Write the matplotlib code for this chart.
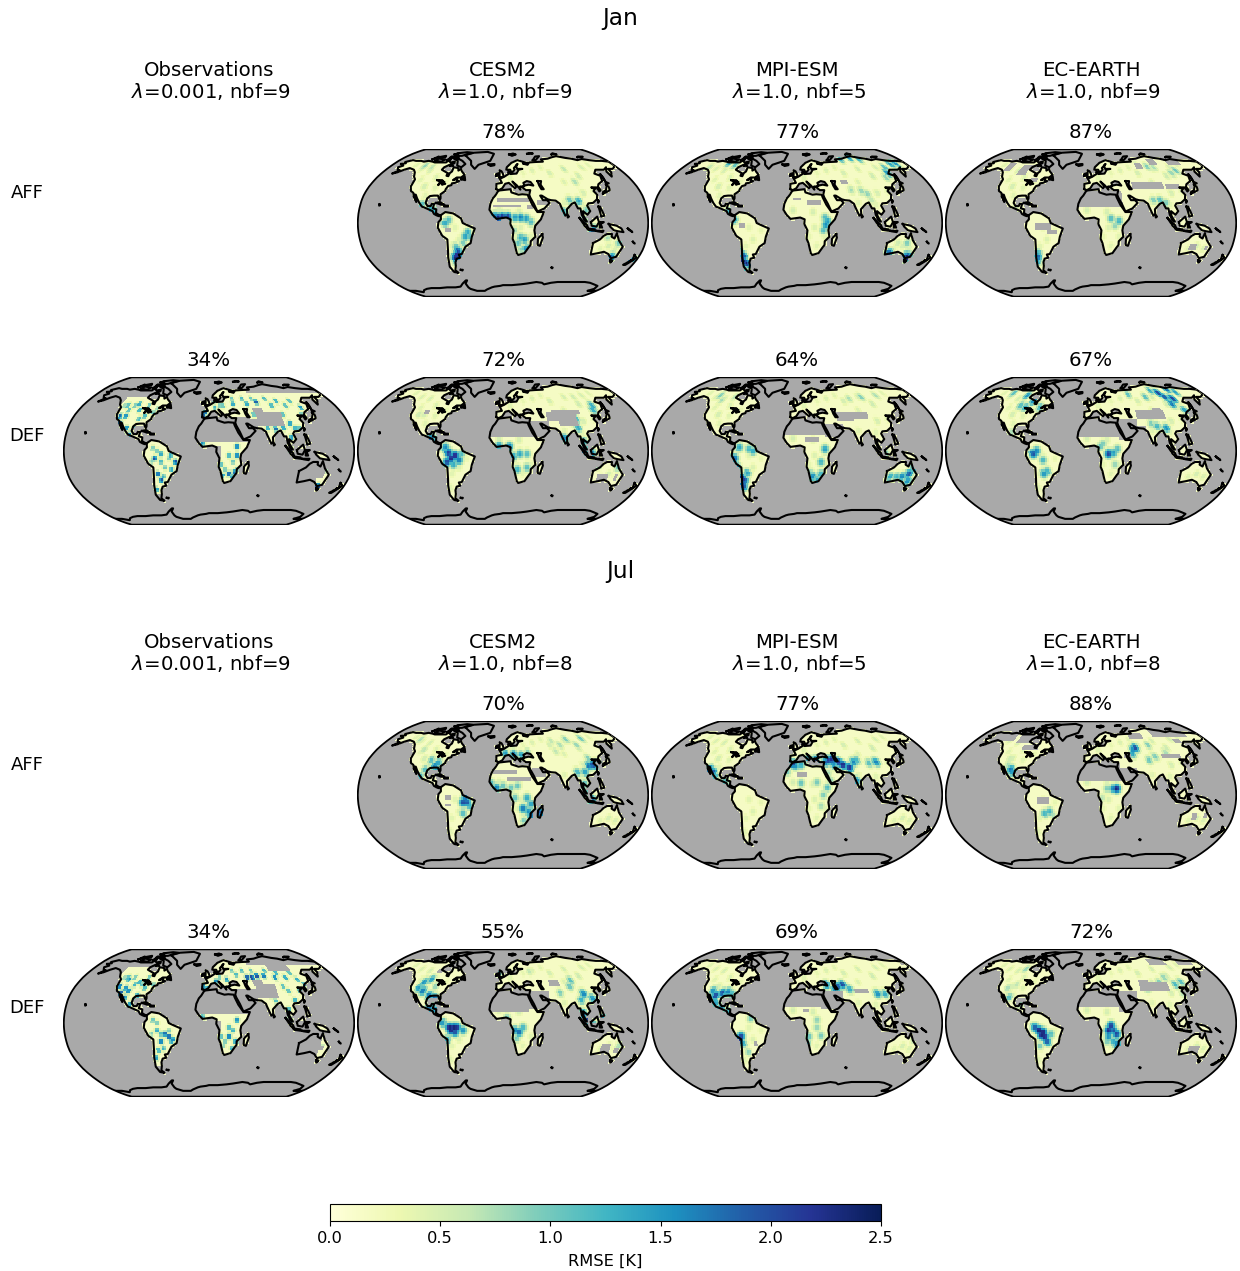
import numpy as np
import matplotlib
matplotlib.use("Agg")
import matplotlib.pyplot as plt
from matplotlib.path import Path
from matplotlib.cm import ScalarMappable
from matplotlib.colors import Normalize

# Text of the figure
months = ["Jan", "Jul"]
models = ["Observations", "CESM2", "MPI-ESM", "EC-EARTH"]
jan_headers = ["$\\lambda$=0.001, nbf=9", "$\\lambda$=1.0, nbf=9", "$\\lambda$=1.0, nbf=5", "$\\lambda$=1.0, nbf=9"]
jul_headers = ["$\\lambda$=0.001, nbf=9", "$\\lambda$=1.0, nbf=8", "$\\lambda$=1.0, nbf=5", "$\\lambda$=1.0, nbf=8"]
jan_aff_pct = [None, "78%", "77%", "87%"]
jan_def_pct = ["34%", "72%", "64%", "67%"]
jul_aff_pct = [None, "70%", "77%", "88%"]
jul_def_pct = ["34%", "55%", "69%", "72%"]
cbar_ticks = [0.0, 0.5, 1.0, 1.5, 2.0, 2.5]

# Coastlines, lon/lat
north_america = [(-168,66),(-162,67),(-166,68.5),(-157,71),(-150,70),(-141,70),(-135,69),(-128,70),(-120,69),(-115,68),(-108,68),(-102,68),(-96,68),(-94,72),(-91,69),(-88,68),(-82,69),(-81,67),(-87,65),(-93,62),(-94,59),(-88,57),(-82,55),(-82,52),(-79,51.5),(-79,55),(-77,57),(-78,62),(-70,61),(-68,58),(-65,60),(-62,57),(-56,53),(-60,50),(-66,50),(-70,47),(-65,49),(-65,47),(-61,46),(-66,44),(-70,43.5),(-70,41.5),(-74,40.5),(-76,37),(-76,35),(-81,31.5),(-80,27),(-80.5,25),(-82,27),(-84,30),(-89,30),(-94,29.5),(-97,27),(-98,22),(-95,18.5),(-91,18.5),(-90,21),(-87,21),(-88,16),(-83.5,15),(-83.5,11),(-80,9),(-77.5,8.5),(-80,7.5),(-83,8.5),(-86,10),(-88,13),(-92,14.5),(-96,16),(-102,18),(-106,22),(-110,27),(-113,31),(-115,31),(-110,23),(-115,29),(-117,33),(-121,35),(-124,40),(-124,48),(-128,51),(-132,56),(-137,59),(-146,61),(-152,59),(-158,56),(-164,54.5),(-158,58.5),(-162,59),(-166,62),(-161,64),(-168,66)]
south_america = [(-77.5,8.5),(-72,12),(-62,10.5),(-52,5),(-50,0),(-44,-2.5),(-35,-6),(-39,-15),(-41,-22),(-48,-26),(-54,-34),(-58,-34.5),(-57,-38),(-62,-39),(-65,-43),(-66,-47),(-69,-52),(-66,-55),(-72,-54),(-75,-48),(-73,-38),(-71,-30),(-70,-18),(-76,-14),(-81,-5),(-80,1),(-77,4),(-77.5,8.5)]
africa = [(-6,35.5),(10,37),(11,33.5),(20,31),(25,31.5),(32,31),(33,28),(37,20),(43,12),(51,12),(47,4),(40,-3),(39,-8),(40.5,-15),(35,-20),(35,-24),(32.5,-27),(28,-33),(20,-35),(18,-33),(14.5,-22),(12,-17),(13,-8),(9,-1),(9.5,4),(4,6),(-4,5),(-8,4.5),(-13,9),(-17,14.5),(-16,21),(-13,27),(-10,30),(-6,35.5)]
eurasia = [(-9,37),(-9,43),(-1.5,44),(-4.5,48.5),(2,51),(8,54),(8,57),(11,54),(20,54.5),(24,59),(30,60),(22,60),(21,64),(24,66),(17,61),(18,59),(13,55.5),(11,59),(5,59),(6,62),(14,67.5),(25,71),(41,67),(33,66.5),(40,65),(44,68),(54,68.5),(68,69),(67,72),(74,72.5),(80,73),(90,75),(100,76.5),(113,74),(122,73),(130,71),(140,72.5),(150,71),(160,70),(170,70),(180,69),(180,65),(177,62.5),(170,60),(163,60),(162,56),(156.5,51),(156,57),(163,62),(155,59),(142,59),(135,54.5),(141,52),(138,46),(130,42.5),(127.5,39.5),(129,36),(126.5,34.5),(125,39),(121,39),(118,39),(122,37),(119,35),(122,31),(120,26),(114,22),(108,21.5),(106,19),(109,13),(105,9),(100,13),(100,8),(104,1.5),(101,3),(98,9),(97,16),(94,16),(91,22.5),(87,21),(80,15),(80,10),(77.5,8),(73,18),(72,21),(67,24.5),(61,25),(57,26),(50,30),(48,30),(51,25),(56,25),(59,22),(52,16),(43,12.5),(39,21),(35,28),(34,31),(36,36),(30,36),(26,39),(29,41),(35,42),(41,41),(38,45),(33,46),(28,44),(29,41),(26,40),(23,40),(23,36.5),(19,41),(13,45.5),(18,40),(16,38),(8,44),(3,43),(-1,38),(-5.5,36),(-9,37)]
australia = [(114,-22),(122,-18),(126,-14),(130,-12),(136,-12),(136,-15),(140,-17),(142,-11),(146,-19),(153,-26),(150,-37),(144,-38.5),(138,-34),(131,-31.5),(124,-33),(115,-34.5),(114,-22)]
madagascar = [(49,-12),(50,-16),(47,-25),(44,-24),(44,-17),(49,-12)]
great_britain = [(-5,50),(1,51),(0,54),(-2,57),(-5,58.5),(-5,54),(-5,50)]
ireland = [(-10,52),(-6,52),(-6,55),(-10,54),(-10,52)]
iceland = [(-24,65.5),(-14,66),(-14,64.5),(-20,63.5),(-24,65.5)]
greenland = [(-73,78),(-60,82),(-32,83.5),(-18,80),(-22,70),(-40,65),(-44,60),(-52,65),(-55,70),(-68,76),(-73,78)]
baffin = [(-80,73),(-70,70),(-62,66),(-66,62),(-74,64),(-78,70),(-88,73),(-80,73)]
ellesmere = [(-90,77),(-78,77),(-62,82),(-75,83),(-92,81),(-90,77)]
victoria = [(-117,70),(-105,69),(-102,72),(-115,73),(-117,70)]
banks = [(-125,72),(-118,74),(-120,76),(-125,72)]
devon = [(-96,74),(-82,74),(-82,76),(-96,76),(-96,74)]
melville = [(-118,75),(-106,75),(-108,77),(-118,75)]
axel = [(-95,79),(-88,79),(-90,81),(-95,79)]
somerset = [(-98,71),(-92,72),(-95,74),(-98,71)]
southampton = [(-86,64),(-80,63.5),(-84,66),(-86,64)]
newfoundland = [(-59,48),(-53,47),(-55,51),(-59,48)]
cuba = [(-85,22),(-80,23),(-74,20),(-78,20),(-85,22)]
hispaniola = [(-74,19),(-69,19),(-69,18),(-74,18),(-74,19)]
japan = [(130,32),(136,34),(141,36),(142,40),(140,41),(136,36),(131,34),(130,32)]
hokkaido = [(140,42),(145,43.5),(142,45),(140,42)]
sakhalin = [(142,46),(143,50),(143,54),(142,50),(142,46)]
sumatra = [(95,5.5),(104,-2),(106,-6),(102,-4),(95,5.5)]
java = [(105,-6),(114,-7),(114,-8.5),(106,-7.5),(105,-6)]
borneo = [(109,1),(117,7),(119,1),(116,-4),(110,-3),(109,1)]
sulawesi = [(120,1),(125,1),(121,-1),(123,-5),(120,-5),(120,1)]
new_guinea = [(131,-1),(141,-3),(147,-6),(150,-10),(143,-9),(138,-8),(133,-4),(131,-1)]
philippines = [(120,18),(122,18),(124,13),(126,8),(122,7),(121,13),(120,18)]
sri_lanka = [(80,9),(82,7),(80.5,6),(80,9)]
taiwan = [(121,25),(122,24),(120.5,22),(121,25)]
tasmania = [(145,-41),(148,-41),(147,-43.5),(145,-41)]
nz_north = [(173,-35),(178,-38),(175,-41.5),(174,-39),(173,-35)]
nz_south = [(173,-41),(174,-42),(170,-46),(167,-46),(173,-41)]
new_caledonia = [(164,-20.5),(167,-22.5),(165,-21.5),(164,-20.5)]
svalbard = [(12,79),(20,80.5),(25,79),(17,77),(12,79)]
novaya_zemlya = [(52,71),(57,71),(68,76.5),(60,76),(52,71)]
severnaya = [(95,79),(105,79),(100,81),(95,79)]
franz_josef = [(48,80),(60,80.5),(55,81.5),(48,80)]
new_siberian = [(137,75),(148,75.5),(140,76),(137,75)]
hawaii = [(-156,20.5),(-155,19.5),(-156,19),(-156,20.5)]
falkland = [(-61,-51.5),(-58,-51.5),(-59,-52.3),(-61,-51.5)]
kerguelen = [(69,-49),(70.5,-49),(70,-49.8),(69,-49)]
solomon = [(155,-6),(160,-9),(161,-10),(156,-7),(155,-6)]
timor = [(116,-8.5),(125,-8.5),(124,-10),(117,-9),(116,-8.5)]
caspian = [(48,46),(53,46),(51,42),(54,37),(51,37),(49,41),(48,46)]
great_lakes = [(-92,47),(-85,47),(-84,46),(-88,41.5),(-87,45),(-83,43),(-79,43),(-83,42),(-81,45),(-85,46),(-88,46),(-92,47)]
antarctica = [(-180,-78),(-168,-78),(-158,-80),(-150,-77),(-140,-75),(-130,-74),(-115,-74),(-100,-73),(-85,-73),(-75,-72),(-68,-68),(-60,-64),(-58,-64),(-63,-68),(-62,-73),(-60,-75),(-50,-78),(-45,-78),(-35,-78),(-30,-76),(-20,-73),(-15,-72),(-5,-71),(0,-70),(15,-70),(30,-69),(40,-68),(55,-66),(65,-67),(70,-69),(80,-67),(90,-66),(105,-66),(120,-66),(135,-66),(145,-67),(155,-69),(165,-71),(168,-75),(163,-78),(170,-78.5),(180,-78)]

coast_lines = [north_america, south_america, africa, eurasia, australia, madagascar, great_britain, ireland, iceland, greenland, baffin, ellesmere, victoria, banks, devon, melville, axel, somerset, southampton, newfoundland, cuba, hispaniola, japan, hokkaido, sakhalin, sumatra, java, borneo, sulawesi, new_guinea, philippines, sri_lanka, taiwan, tasmania, nz_north, nz_south, new_caledonia, svalbard, novaya_zemlya, severnaya, franz_josef, new_siberian, hawaii, falkland, kerguelen, solomon, timor, caspian, great_lakes, antarctica]
data_land = [north_america, south_america, africa, eurasia, australia, madagascar, great_britain, ireland, cuba, hispaniola, japan, sumatra, java, borneo, sulawesi, new_guinea, philippines, sri_lanka, tasmania, nz_north, nz_south]

# Pale mottling seen in all the model maps: lon, lat, RMSE
mottle = [(-140,65,.45),(-125,60,.5),(-110,58,.55),(-95,50,.5),(-105,40,.55),(-90,38,.45),(-78,45,.4),(-115,48,.45),(-100,30,.45),
          (-60,-5,.45),(-55,-18,.5),(-65,-25,.45),(-45,-8,.4),(-70,-40,.45),(-5,14,.55),(20,12,.55),(22,-5,.5),(25,-25,.45),(15,-15,.4),(35,-15,.45),
          (10,50,.45),(45,58,.5),(70,55,.55),(95,60,.55),(110,52,.6),(125,62,.55),(85,45,.5),(105,33,.55),(140,65,.45),(60,62,.45),(30,55,.4),(120,35,.45),
          (135,-25,.55),(125,-28,.45),(145,-28,.5),(78,22,.45),(100,20,.45)]
# Extra scatter of the observation maps
obs_scatter = [(-115,50,1.4),(-105,50,1.2),(-95,45,1.6),(-85,38,1.4),(-75,42,1.2),(-110,38,1.8),(-95,25,1.4),(-120,50,1.0),(-65,0,1.2),(-60,-12,1.4),(-50,-8,1.1),(-47,-20,1.6),(-58,-28,1.4),(-72,-12,1.0),(15,50,1.2),(35,58,1.2),(50,58,1.4),(65,58,1.2),(85,58,1.4),(100,55,1.6),(120,55,1.4),(100,40,1.4),(80,30,1.7),(110,25,1.6),(25,-5,1.5),(20,-20,1.2),(30,-28,1.5),(15,-15,1.4),(35,-20,1.1)]

# Field per panel: lon, lat, RMSE for the coloured spots, lon0, lat0, lon1, lat1 for the no-data boxes
jan_aff_cesm = [(-125,64,.9),(-112,62,.7),(-90,15,1.4),(-85,12,1.5),(-102,20,1.2),(-72,0,1.4),(-68,3,1.2),(-44,-10,1.4),(-47,-15,1.5),(-42,-15,1.2),(-50,-22,1.0),(-60,-26,1.2),(-58,-31,2.1),(-60,-35,2.4),(-63,-38,2.4),(-65,-44,.9),(-10,8,1.7),(-6,6,2.3),(-1,7,2.3),(6,7,2.2),(15,6,1.5),(22,6,1.7),(29,5,1.5),(35,1,1.2),(14,-8,.9),(22,-16,1.3),(27,-18,1.5),(19,-22,1.1),(30,-28,1.6),(24,-29,.9),(76,12,1.4),(85,25,1.1),(96,24,1.4),(104,14,1.0),(100,3,1.1),(112,-7,2.0),(132,-16,.8),(147,-22,1.0),(144,-37,1.8),(173,-41,1.7),(95,60,.7),(100,45,.8)]
jan_aff_cesm_gray = [(-8,23,32,28),(-12,17,22,20),(30,16,38,19),(42,19,58,24),(-72,-9,-66,-6)]
jan_aff_mpi = [(-138,62,.7),(-112,67,1.3),(-100,65,1.2),(-85,12,1.4),(-78,3,1.4),(-70,-36,2.0),(-72,-41,2.4),(-69,-44,2.4),(-75,-48,1.6),(-74,-30,1.3),(38,2,1.5),(36,-2,1.6),(35,6,1.2),(33,-8,1.2),(78,72,1.4),(95,74,1.6),(110,72,1.3),(140,62,1.2),(135,55,1.6),(128,50,.9),(155,66,1.5),(165,67,1.6),(85,35,.9),(92,32,.9),(72,36,.8),(120,-33,2.0),(146,-37,2.4),(143,-35,1.5),(140,-22,1.0),(128,-22,.6),(95,25,.7)]
jan_aff_mpi_gray = [(-5,24,6,28),(12,20,30,24),(-72,-4,-66,-1),(60,43,70,47)]
jan_aff_ec = [(-70,-37,1.9),(-68,-33,1.3),(-72,-42,1.4),(25,5,1.2),(35,2,1.3),(30,-3,.9),(80,25,1.0),(88,25,1.2),(95,22,1.0),(90,63,1.0),(100,62,.8),(130,58,1.1),(120,55,.9),(75,65,.7),(-95,15,.7)]
jan_aff_ec_gray = [(-17,17,39,36),(-135,58,-122,68),(-110,52,-95,64),(-100,60,-85,66),(-85,45,-75,50),(55,38,98,46),(100,38,120,42),(70,60,82,68),(95,65,110,72),(125,65,150,72),(-70,-7,-50,-1),(-55,-12,-42,-8),(125,-30,135,-22),(145,-30,150,-26)]

jan_def_obs = [(-118,38,2),(-110,45,1.4),(-100,52,1.6),(-85,50,1.3),(-72,47,1.0),(-105,25,1.9),(-100,18,2.0),(-92,35,1.4),(-115,30,2.2),(-80,42,.7),(-70,3,1.1),(-68,-8,2.2),(-60,-3,1.6),(-48,-5,1.6),(-42,-12,2.2),(-55,-18,1.2),(-65,-25,2.2),(-62,-32,2.1),(-70,-42,1.7),(-5,42,2.0),(-7,38,2.0),(-2,36,1.5),(8,48,1.4),(20,50,1.3),(35,52,1.6),(55,52,1.6),(70,54,2.1),(90,50,1.5),(110,50,1.4),(130,48,1.8),(125,40,1.2),(60,40,1.3),(30,-12,1.2),(35,-5,2.0),(35,5,2.0),(25,-25,2.3),(32,-23,1.9),(17,-27,1.8),(-8,8,1.7),(75,25,1.6),(85,24,2.0),(95,25,1.7),(103,15,1.7),(105,30,1.8),(115,25,1.4),(100,2,2.3),(145,-38,2.3),(147,-22,1.0),(8,54,1.2)]
jan_def_obs_gray = [(-180,60,-50,80),(-170,50,-125,60),(-20,9,55,38),(8,-8,14,5),(110,-40,140,-8),(140,-30,147,-8),(35,12,62,36),(62,28,98,43),(60,64,180,80),(60,43,75,48),(108,-12,122,2),(-75,-56,-62,-48)]
jan_def_cesm = [(-60,-5,2.4),(-65,-8,2.4),(-68,-2,2.2),(-70,-12,2.1),(-55,-10,1.8),(-72,4,1.6),(-85,12,1.4),(-90,14,1.8),(-62,-15,1.4),(-52,-3,1.2),(-74,-15,1.0),(13,-6,1.5),(21,-3,1.4),(30,-3,1.2),(18,-20,1.3),(30,-18,1.2),(8,5,1.7),(-5,6,1.5),(77,14,1.7),(96,25,1.4),(101,10,1.4),(100,1,2.0),(110,-2,1.6),(125,45,1.4),(128,50,1.4),(96,35,1.5),(90,33,1.6),(120,-15,1.2),(145,-18,1.0),(-112,40,.6),(110,60,.6)]
jan_def_cesm_gray = [(-17,16,35,36),(35,14,60,32),(58,32,72,43),(65,40,105,46),(72,28,98,40),(120,-33,135,-25),(142,-32,147,-24),(-108,40,-101,46),(-62,-35,-60,-34)]
jan_def_mpi = [(-120,62,1.0),(-112,56,.8),(-96,60,.7),(-78,-8,1.9),(-75,-18,1.7),(-70,-30,2.3),(-71,-38,2.2),(-68,-32,2.0),(-63,-24,1.4),(-60,2,1.3),(-55,0,1.4),(-72,4,1.4),(35,2,1.5),(30,-12,1.3),(20,-28,1.7),(27,-32,1.4),(30,-25,1.3),(17,-24,1.0),(80,58,.8),(100,60,1.0),(125,62,.8),(148,-18,1.7),(143,-25,2.0),(135,-28,1.7),(128,-28,1.3),(120,-28,1.4),(145,-33,1.6),(110,-2,.9)]
jan_def_mpi_gray = [(-17,17,35,36),(35,14,60,30),(52,32,75,42),(65,36,95,42),(10,10,28,14),(-60,-26,-55,-24)]
jan_def_ec = [(-125,65,1.2),(-100,62,1.6),(-85,55,1.7),(-92,48,1.4),(-72,48,1.3),(-100,50,1.2),(60,63,1.2),(100,68,1.4),(115,60,2.0),(110,65,2.2),(125,58,2.2),(130,70,1.9),(140,66,1.5),(85,60,1.2),(130,45,1.5),(96,25,1.6),(85,27,1.3),(78,30,1.0),(118,52,1.8),(-68,0,1.7),(-72,-3,2.0),(-60,-10,1.3),(-55,-22,1.3),(-60,-25,1.6),(22,-3,2.1),(28,-2,1.5),(33,2,1.2),(12,5,1.1),(15,8,1.0),(30,-15,.9),(-100,20,.8)]
jan_def_ec_gray = [(-17,16,35,36),(35,12,60,36),(60,34,100,44),(84,44,98,47),(58,22,70,27)]

jul_aff_cesm = [(-95,38,1.2),(-88,32,1.7),(-85,35,1.5),(-85,28,1.5),(-100,28,1.2),(-105,20,1.3),(-112,50,.7),(-130,62,.8),(-50,-8,2.1),(-45,-8,2.0),(-47,-3,1.8),(-42,-12,1.3),(-50,-20,1.2),(-15,13,1.2),(-8,8,1.7),(0,10,1.1),(10,8,1.1),(18,10,1.1),(15,-3,1.1),(30,-3,1.4),(35,-10,1.5),(25,-15,1.8),(32,-18,1.6),(35,-22,1.8),(47,-19,2.0),(27,-28,1.0),(15,45,1.8),(25,44,1.5),(3,46,1.5),(35,47,1.0),(100,62,1.0),(125,63,1.1),(115,40,1.0),(112,32,1.8),(118,33,2.1),(125,35,1.2),(105,25,1.5),(95,25,1.3),(110,55,.9),(85,55,.8),(75,48,.7),(102,12,1.2),(110,-5,1.9),(101,2,1.4),(75,60,.7)]
jul_aff_cesm_gray = [(-12,22,18,27),(5,16,35,19),(38,20,55,30),(-72,-4,-65,-1),(-72,-12,-64,-9)]
jul_aff_mpi = [(-112,28,2.0),(-107,25,2.0),(-103,20,1.3),(-90,15,1.2),(-84,8,1.4),(-5,34,2.1),(-2,32,1.6),(5,33,1.4),(-12,25,1.0),(5,13,1.1),(25,14,1.0),(38,8,1.2),(33,0,1.0),(30,-12,.8),(38,36,1.9),(42,38,2.2),(47,39,2.3),(55,36,2.3),(60,33,2.4),(68,30,2.3),(48,33,1.6),(25,38,2.1),(15,39,1.5),(80,38,1.3),(95,35,1.2),(105,36,1.7),(75,36,1.7),(75,16,1.6),(42,16,.9),(40,24,.8)]
jul_aff_mpi_gray = [(-1,20,13,26)]
jul_aff_ec = [(-103,28,1.8),(-100,25,1.6),(-108,33,.8),(-58,-20,1.3),(-52,-18,1.3),(-48,-22,.8),(32,7,2.4),(28,7,1.8),(20,7,1.0),(14,-3,.7),(65,52,2.1),(60,50,1.7),(58,45,1.5),(85,55,1.0),(88,42,1.0),(105,47,.8),(78,38,1.1),(-108,40,.6)]
jul_aff_ec_gray = [(-17,15,38,36),(38,14,60,30),(-160,60,-120,70),(-115,58,-92,68),(-100,50,-75,56),(-105,62,-80,68),(-68,-10,-52,-2),(95,40,122,46),(100,65,160,75),(60,62,85,70),(128,-28,135,-20),(142,-25,147,-21),(125,-35,132,-32),(128,58,140,62),(45,40,55,44)]

jul_def_obs = [(-120,40,2.1),(-112,48,1.7),(-115,33,2.2),(-105,35,2.0),(-100,42,1.5),(-108,28,1.9),(-92,30,1.6),(-100,20,1.8),(-90,42,1.3),(-85,50,1.3),(-70,3,1.2),(-65,-8,1.6),(-55,-12,2.1),(-50,-15,2.3),(-45,-18,1.9),(-60,-20,2.1),(-65,-30,1.5),(-70,-38,1.7),(-8,40,2.2),(-2,37,2.0),(10,46,1.8),(25,48,1.8),(40,53,1.4),(55,50,2.4),(62,50,2.4),(70,52,2.3),(80,52,2.0),(95,50,2.0),(110,50,1.7),(125,48,1.6),(130,42,1.6),(120,35,1.3),(105,35,1.4),(70,32,1.5),(35,3,1.8),(30,-8,1.5),(25,-15,2.1),(33,-20,1.8),(18,-25,1.0),(-8,7,1.5),(100,15,1.5),(100,3,2.0),(85,24,1.3),(145,-25,.8)]
jul_def_obs_gray = [(-180,62,-50,80),(-170,50,-128,62),(-20,10,52,38),(8,-8,14,3),(110,-40,143,-8),(143,-30,147,-24),(35,12,62,38),(62,28,90,42),(60,66,180,80),(60,40,75,48),(108,-12,125,2),(-75,-56,-64,-48),(90,58,125,66)]
jul_def_cesm = [(-62,-5,2.5),(-67,-5,2.5),(-58,-5,2.4),(-65,-8,2.4),(-60,-10,2.1),(-75,0,1.6),(-50,-8,1.6),(-70,-18,1.4),(-100,48,1.5),(-108,45,1.6),(-105,35,1.8),(-112,38,1.5),(-95,30,1.8),(-88,27,2.0),(-92,17,1.8),(-85,15,1.6),(-90,40,.9),(15,-8,1.7),(20,-10,1.9),(25,-5,1.3),(17,-17,1.0),(5,6,1.0),(95,47,1.2),(105,32,1.7),(115,27,1.6),(100,25,1.4),(100,10,2.0),(103,3,2.1),(112,-3,2.0),(118,-5,1.9),(125,5,1.5),(90,40,1.1),(75,33,1.0),(40,57,.7),(-5,55,1.2),(148,-25,.8)]
jul_def_cesm_gray = [(-17,12,32,36),(32,15,60,36),(62,40,78,48),(108,-12,122,0),(125,-32,138,-22),(142,-33,150,-27),(-100,55,-90,60)]
jul_def_mpi = [(-110,35,1.6),(-105,30,2.1),(-97,33,2.0),(-90,34,1.7),(-85,32,1.3),(-103,22,1.5),(-95,16,1.7),(-85,12,1.4),(-70,-15,2.2),(-72,-18,2.2),(-68,-22,1.4),(-58,5,1.0),(-63,-32,.9),(40,42,1.9),(55,40,2.0),(62,42,2.1),(50,37,1.6),(70,37,1.4),(105,32,1.6),(115,32,1.4),(25,-5,.9),(30,-14,1.0),(15,-15,1.1),(25,3,.9),(12,-22,1.4),(148,-18,.8)]
jul_def_mpi_gray = [(-17,17,30,36),(30,15,60,36),(8,12,14,14),(75,32,95,38),(-56,-26,-50,-20),(170,65,178,68)]
jul_def_ec = [(-60,-10,2.5),(-65,-8,2.5),(-58,-15,2.4),(-62,-13,2.4),(-70,-5,2.0),(-55,-20,2.0),(-50,-12,1.2),(-65,-25,1.0),(25,-3,2.2),(22,-8,2.3),(28,-8,2.0),(32,-12,2.1),(22,-15,1.6),(28,-20,1.4),(33,-23,1.8),(20,-20,1.0),(-100,42,.7),(-110,38,.8),(-105,28,1.2),(-90,20,.9),(-100,60,.9),(75,38,1.2),(95,45,1.0),(115,42,1.3),(125,45,1.2),(105,50,.9),(120,32,.7)]
jul_def_ec_gray = [(-17,17,35,36),(35,12,60,36),(65,35,105,46),(65,44,80,48),(95,65,125,73),(142,66,170,70),(-8,14,8,16),(125,-32,140,-26)]

# Grid
lon_edges = np.arange(-180, 180.1, 2.5)
lat_edges = np.arange(-90, 90.1, 2.5)
lon_mid = (lon_edges[:-1] + lon_edges[1:]) / 2
lat_mid = (lat_edges[:-1] + lat_edges[1:]) / 2

rob_lat = np.arange(0, 91, 5)
rob_plen = np.array([1.0, .9986, .9954, .99, .9822, .973, .96, .9427, .9216, .8962, .8679, .835, .7986, .7597, .7186, .6732, .6213, .5722, .5322])
rob_pdfe = np.array([0, .062, .124, .186, .248, .31, .372, .434, .4958, .5571, .6176, .6769, .7346, .7903, .8435, .8936, .9394, .9761, 1.0])


def robinson(lon, lat):
    lon = np.asarray(lon, dtype=float)
    lat = np.asarray(lat, dtype=float)
    a = np.abs(lat)
    x = 0.8487 * np.interp(a, rob_lat, rob_plen) * np.radians(lon)
    y = 1.3523 * np.interp(a, rob_lat, rob_pdfe) * np.sign(lat)
    return x, y


lon2d, lat2d = np.meshgrid(lon_mid, lat_mid)
land = np.zeros(lon2d.shape, dtype=bool)
for poly in data_land:
    p = Path(poly)
    for dx, dy in [(0, 0), (1.3, 0), (-1.3, 0), (0, 1.3), (0, -1.3)]:
        pts = np.column_stack([lon2d.ravel() + dx, lat2d.ravel() + dy])
        land |= p.contains_points(pts).reshape(lon2d.shape)
lake = Path(caspian).contains_points(np.column_stack([lon2d.ravel(), lat2d.ravel()])).reshape(lon2d.shape)
land &= ~lake


def make_field(spots, gray, obs=False):
    field = np.full(lon2d.shape, 0.17)
    # obs maps are speckled, model maps are smoother
    width = 11.0 if obs else 32.0
    todo = (obs_scatter if obs else mottle) + spots
    for lon, lat, val in todo:
        d2 = (lon2d - lon) ** 2 + (lat2d - lat) ** 2
        field = np.maximum(field, val * np.exp(-d2 / width))
    for lon0, lat0, lon1, lat1 in gray:
        inside = (lon2d >= lon0) & (lon2d <= lon1) & (lat2d >= lat0) & (lat2d <= lat1)
        field[inside] = np.nan
    field[~land] = np.nan
    return field


fig = plt.figure(figsize=(12.4, 12.71), dpi=100)
W, H = 1240.0, 1271.0
cmap = plt.get_cmap("YlGnBu")
norm = Normalize(0, 2.5)
mx, my = robinson(*np.meshgrid(lon_edges, lat_edges))
ox, oy = robinson(np.r_[np.full(91, 180), np.full(91, -180)], np.r_[np.linspace(-90, 90, 91), np.linspace(90, -90, 91)])


def map_panel(x0, y0, spots, gray, obs=False):
    ax = fig.add_axes([x0 / W, 1 - (y0 + 148) / H, 292 / W, 148 / H])
    ax.set_xlim(-2.68, 2.68)
    ax.set_ylim(-1.3585, 1.3585)
    ax.axis("off")
    out = ax.fill(ox, oy, facecolor="#a9a9a9", edgecolor="black", lw=1.3, zorder=1)[0]
    mesh = ax.pcolormesh(mx, my, make_field(spots, gray, obs), cmap=cmap, norm=norm, zorder=2)
    mesh.set_clip_path(out)
    for c in coast_lines:
        cx, cy = robinson(*np.array(c).T)
        line = ax.plot(cx, cy, color="black", lw=1.5, zorder=3, solid_joinstyle="round")[0]
        line.set_clip_path(out)


col_x = [63, 357, 651, 945]
col_mid = [209, 503, 797, 1091]


def put(x, y, s, size=14.2):
    fig.text(x / W, 1 - y / H, s, ha="center", va="center", fontsize=size)


def block(title_y, head_y, headers, aff_pct, def_pct, aff_y, def_y, aff_fields, def_fields, month):
    put(620, title_y, month, 16.8)
    for i in range(4):
        put(col_mid[i], head_y + 2, models[i])
        put(col_mid[i] + 2, head_y + 24, headers[i])
        if aff_pct[i]:
            put(col_mid[i], aff_y - 18, aff_pct[i])
        put(col_mid[i], def_y - 18, def_pct[i])
    put(27, aff_y + 43, "AFF", 13)
    put(27, def_y + 58, "DEF", 13)
    for i, (spots, gray) in enumerate(aff_fields):
        map_panel(col_x[i + 1], aff_y - 1, spots, gray)
    for i, (spots, gray) in enumerate(def_fields):
        map_panel(col_x[i], def_y - 1, spots, gray, i == 0)


block(19, 68, jan_headers, jan_aff_pct, jan_def_pct, 150, 378,
      [(jan_aff_cesm, jan_aff_cesm_gray), (jan_aff_mpi, jan_aff_mpi_gray), (jan_aff_ec, jan_aff_ec_gray)],
      [(jan_def_obs, jan_def_obs_gray), (jan_def_cesm, jan_def_cesm_gray), (jan_def_mpi, jan_def_mpi_gray), (jan_def_ec, jan_def_ec_gray)], months[0])
block(572, 640, jul_headers, jul_aff_pct, jul_def_pct, 722, 950,
      [(jul_aff_cesm, jul_aff_cesm_gray), (jul_aff_mpi, jul_aff_mpi_gray), (jul_aff_ec, jul_aff_ec_gray)],
      [(jul_def_obs, jul_def_obs_gray), (jul_def_cesm, jul_def_cesm_gray), (jul_def_mpi, jul_def_mpi_gray), (jul_def_ec, jul_def_ec_gray)], months[1])

cax = fig.add_axes([330 / W, 1 - 1221 / H, 551 / W, 17 / H])
cb = fig.colorbar(ScalarMappable(norm=norm, cmap=cmap), cax=cax, orientation="horizontal")
cb.set_ticks(cbar_ticks)
cb.ax.tick_params(labelsize=11.7, pad=4)
cb.set_label("RMSE [K]", fontsize=11.7, labelpad=5)

fig.savefig("out.png", dpi=100)
